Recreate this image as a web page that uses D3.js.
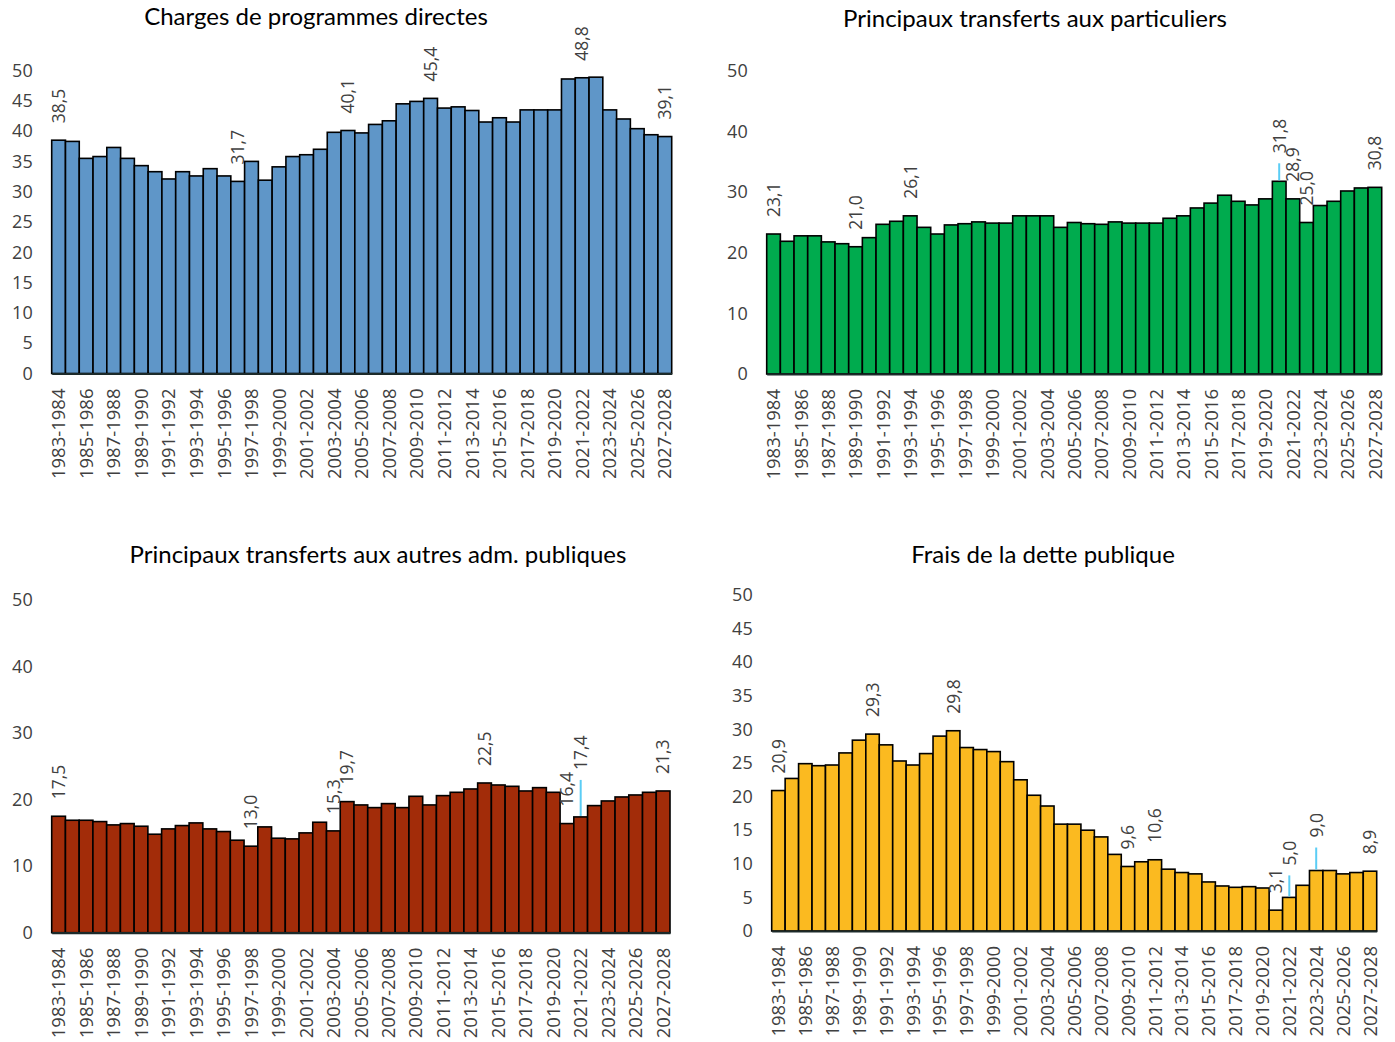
<!DOCTYPE html>
<html>
<head>
<meta charset="utf-8">
<script src="https://cdn.jsdelivr.net/npm/d3@7"></script>
<style>
    body { margin: 0; background: #fff; }
    svg text { font-family: "Open Sans", "Noto Sans", sans-serif; }
    .title { font-family: Lato, "Open Sans", sans-serif; font-size: 24px; fill: #000; }
</style>
</head>
<body>
<div id="chart"></div>
<script>
const categories = [
    "1983-1984", "1984-1985", "1985-1986", "1986-1987", "1987-1988", "1988-1989", "1989-1990",
    "1990-1991", "1991-1992", "1992-1993", "1993-1994", "1994-1995", "1995-1996", "1996-1997",
    "1997-1998", "1998-1999", "1999-2000", "2000-2001", "2001-2002", "2002-2003", "2003-2004",
    "2004-2005", "2005-2006", "2006-2007", "2007-2008", "2008-2009", "2009-2010", "2010-2011",
    "2011-2012", "2012-2013", "2013-2014", "2014-2015", "2015-2016", "2016-2017", "2017-2018",
    "2018-2019", "2019-2020", "2020-2021", "2021-2022", "2022-2023", "2023-2024", "2024-2025",
    "2025-2026", "2026-2027", "2027-2028"
];

const chargesDirectes = [
    38.5, 38.3, 35.5, 35.8, 37.3, 35.5, 34.3, 33.3, 32.1, 33.3,
    32.6, 33.8, 32.6, 31.7, 35.0, 31.9, 34.1, 35.8, 36.1, 37.0,
    39.8, 40.1, 39.7, 41.1, 41.7, 44.5, 44.9, 45.4, 43.8, 44.0,
    43.4, 41.5, 42.2, 41.5, 43.5, 43.5, 43.5, 48.6, 48.8, 48.9,
    43.5, 42.0, 40.4, 39.4, 39.1
];
const transfertsParticuliers = [
    23.1, 21.9, 22.8, 22.8, 21.8, 21.5, 21.0, 22.5, 24.7, 25.2,
    26.1, 24.2, 23.1, 24.6, 24.8, 25.1, 24.9, 24.9, 26.1, 26.1,
    26.1, 24.2, 25.0, 24.8, 24.7, 25.1, 24.9, 24.9, 24.9, 25.7,
    26.1, 27.4, 28.2, 29.5, 28.5, 27.9, 28.9, 31.8, 28.9, 25.0,
    27.8, 28.5, 30.2, 30.7, 30.8
];
const transfertsAdm = [
    17.5, 16.9, 16.9, 16.7, 16.2, 16.4, 16.0, 14.8, 15.6, 16.1,
    16.5, 15.6, 15.2, 13.9, 13.0, 15.9, 14.2, 14.1, 15.0, 16.6,
    15.3, 19.7, 19.2, 18.8, 19.4, 18.8, 20.5, 19.2, 20.6, 21.1,
    21.6, 22.5, 22.2, 22.0, 21.3, 21.8, 21.1, 16.4, 17.4, 19.1,
    19.8, 20.4, 20.7, 21.1, 21.3
];
const fraisDette = [
    20.9, 22.7, 24.9, 24.6, 24.7, 26.5, 28.4, 29.3, 27.7, 25.3,
    24.7, 26.4, 29.0, 29.8, 27.3, 27.0, 26.7, 25.2, 22.5, 20.2,
    18.6, 15.9, 15.9, 15.0, 14.0, 11.4, 9.6, 10.3, 10.6, 9.2,
    8.7, 8.5, 7.3, 6.7, 6.5, 6.6, 6.4, 3.1, 5.0, 6.8,
    9.0, 9.0, 8.5, 8.7, 8.9
];

// which bars carry a value label
const labelsDirectes = [0, 13, 21, 27, 38, 44];
const labelsParticuliers = [0, 6, 10, 37, 38, 39, 44];
const labelsAdm = [0, 14, 20, 21, 31, 37, 38, 44];
const labelsDette = [0, 7, 13, 26, 28, 37, 38, 40, 44];

const ticksBy5 = [0, 5, 10, 15, 20, 25, 30, 35, 40, 45, 50];
const ticksBy10 = [0, 10, 20, 30, 40, 50];

const panels = [
    { title: "Charges de programmes directes", values: chargesDirectes, labels: labelsDirectes,
      ticks: ticksBy5, color: "#5f96c8", left: 51.7, right: 671.7, zero: 373.5, top: 70.5,
      titleX: 316, titleY: 25, lifts: {} },
    { title: "Principaux transferts aux particuliers", values: transfertsParticuliers, labels: labelsParticuliers,
      ticks: ticksBy10, color: "#00ab4e", left: 766.7, right: 1381.7, zero: 374, top: 71,
      titleX: 1035, titleY: 27, lifts: { 37: 28 } },
    { title: "Principaux transferts aux autres adm. publiques", values: transfertsAdm, labels: labelsAdm,
      ticks: ticksBy10, color: "#a22c09", left: 51.7, right: 670, zero: 932.7, top: 600,
      titleX: 378, titleY: 563, lifts: { 38: 47 } },
    { title: "Frais de la dette publique", values: fraisDette, labels: labelsDette,
      ticks: ticksBy5, color: "#fbba20", left: 771.7, right: 1376.7, zero: 931, top: 595,
      titleX: 1043, titleY: 563, lifts: { 38: 32, 40: 33 } }
];

const fmt = v => d3.format(".1f")(v).replace(".", ",");

const svg = d3.select("#chart")
    .append("svg")
    .attr("width", 1395)
    .attr("height", 1042);

panels.forEach(p => {
    const g = svg.append("g");

    const x = d3.scaleBand()
        .domain(categories)
        .range([p.left, p.right])
        .padding(0);

    const y = d3.scaleLinear()
        .domain([0, 50])
        .range([p.zero, p.top]);

    g.append("text")
        .attr("class", "title")
        .attr("x", p.titleX)
        .attr("y", p.titleY)
        .attr("text-anchor", "middle")
        .text(p.title);

    const yAxis = g.append("g")
        .attr("transform", `translate(${p.left},0)`)
        .call(d3.axisLeft(y).tickValues(p.ticks).tickSize(0).tickPadding(19));
    yAxis.select(".domain").remove();
    yAxis.selectAll("text")
        .style("font-size", "18px")
        .style("font-family", "'Open Sans', sans-serif")
        .attr("fill", "#404040");

    g.selectAll(".bar")
        .data(p.values)
        .enter()
        .append("rect")
        .attr("x", (d, i) => x(categories[i]))
        .attr("y", d => y(d))
        .attr("width", x.bandwidth())
        .attr("height", d => y(0) - y(d))
        .attr("fill", p.color)
        .attr("stroke", "#000")
        .attr("stroke-width", 1.6);

    const xAxis = g.append("g")
        .attr("transform", `translate(0,${p.zero})`)
        .call(d3.axisBottom(x)
            .tickValues(categories.filter((d, i) => i % 2 === 0))
            .tickSize(0));
    xAxis.select(".domain")
        .attr("stroke", "#1c2a2a")
        .attr("stroke-width", 2.2);
    xAxis.selectAll("text")
        .attr("y", 0)
        .attr("x", -15)
        .attr("dy", "0.36em")
        .attr("transform", "rotate(-90)")
        .attr("text-anchor", "end")
        .style("font-size", "18.5px")
        .style("font-family", "'Open Sans', sans-serif")
        .attr("fill", "#404040");

    p.labels.forEach(i => {
        const v = p.values[i];
        const cx = x(categories[i]) + x.bandwidth() / 2;
        const top = y(v);
        const lift = p.lifts[i] || 17;
        if (p.lifts[i]) {
            g.append("line")
                .attr("x1", cx)
                .attr("x2", cx)
                .attr("y1", top - 1)
                .attr("y2", top - lift + 10)
                .attr("stroke", "#5bcdf5")
                .attr("stroke-width", 2);
        }
        g.append("text")
            .attr("transform", `translate(${cx},${top - lift}) rotate(-90)`)
            .attr("dy", "0.36em")
            .attr("text-anchor", "start")
            .style("font-size", "17.5px")
            .attr("fill", "#404040")
            .text(fmt(v));
    });
});
</script>
</body>
</html>
